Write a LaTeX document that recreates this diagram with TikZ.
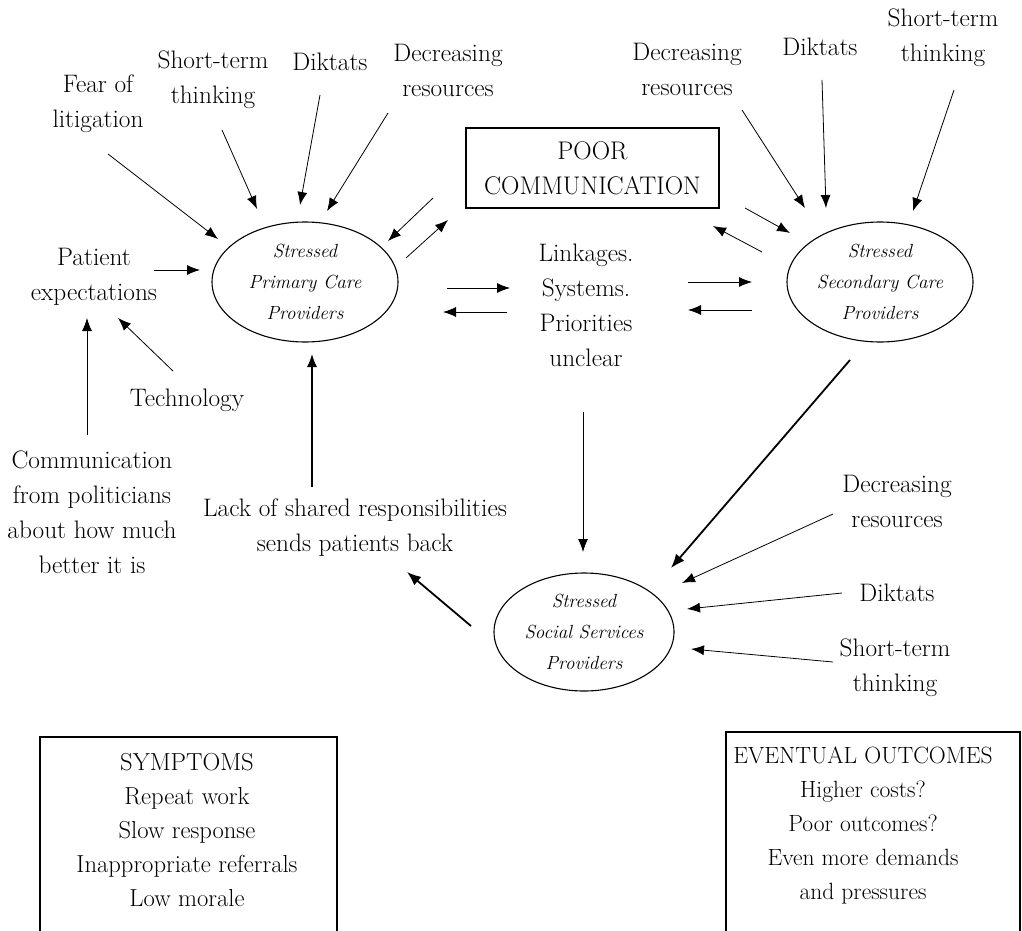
\documentclass[tikz,border=0pt]{standalone}
\usepackage{fontspec}
\usetikzlibrary{arrows.meta,shapes.geometric}
\begin{document}
\begin{tikzpicture}[x=1pt,y=-1pt,
  lbl/.style={align=center,font=\fontsize{25.3}{35}\selectfont,inner sep=0pt},
  ell/.style={draw,ellipse,line width=1.1pt,minimum width=186pt,minimum height=120pt,inner sep=0pt,align=center,font=\fontsize{19}{31}\selectfont\itshape},
  arr/.style={line width=0.8pt,-{Latex[length=13pt,width=10pt]}},
  tarr/.style={line width=1.8pt,-{Latex[length=14pt,width=11pt]}},
  marr/.style={line width=1.3pt,-{Latex[length=13pt,width=10pt]}},
  obox/.style={line width=1.2pt}
]
\useasboundingbox (0,0) rectangle (1022,931);

% ellipses
\node[ell] (prim) at (305,282) {Stressed\\Primary Care\\Providers};
\node[ell] (sec) at (880,282) {Stressed\\Secondary Care\\Providers};
\node[ell,minimum width=180pt,minimum height=118pt] (soc) at (584,632) {Stressed\\Social Services\\Providers};

% central box
\node[lbl,font=\fontsize{25.5}{35}\selectfont,draw,line width=1.2pt,minimum width=253pt,minimum height=80pt] (poor) at (592.5,168) {POOR\\COMMUNICATION};

% labels
\node[lbl] (fear) at (98,104) {Fear of\\litigation};
\node[lbl] (st1) at (213,80) {Short-term\\thinking};
\node[lbl] (dik1) at (330,62) {Diktats};
\node[lbl] (dec1) at (448,70) {Decreasing\\resources};
\node[lbl] (pat) at (94,277) {Patient\\expectations};
\node[lbl] (tech) at (187,400) {Technology};
\node[lbl] (comm) at (92,512) {Communication\\from politicians\\about how much\\better it is};
\node[lbl] (lack) at (355,528) {Lack of shared responsibilities\\sends patients back};
\node[lbl] (link) at (586,305) {Linkages.\\Systems.\\Priorities\\unclear};
\node[lbl] (dec2) at (687,69) {Decreasing\\resources};
\node[lbl] (dik2) at (820,47) {Diktats};
\node[lbl] (st2) at (943,38) {Short-term\\thinking};
\node[lbl] (dec3) at (897,501) {Decreasing\\resources};
\node[lbl] (dik3) at (897,593) {Diktats};
\node[lbl] (st3) at (895,668) {Short-term\\thinking};
\node[lbl,font=\fontsize{24.6}{34}\selectfont] (symp) at (187,830) {SYMPTOMS\\Repeat work\\Slow response\\Inappropriate referrals\\Low morale};
\node[lbl,font=\fontsize{23.5}{34}\selectfont] (outc) at (863,825) {EVENTUAL OUTCOMES\\Higher costs?\\Poor outcomes?\\Even more demands\\and pressures};

% open boxes (cut at bottom)
\draw[obox] (40,932) -- (40,737) -- (337,737) -- (337,932);
\draw[obox] (726,932) -- (726,732) -- (1020,732) -- (1020,932);

% arrow end points
\coordinate (fearS) at (108,154);  \coordinate (fearE) at (218,239);
\coordinate (st1S) at (222,130);   \coordinate (st1E) at (257,209);
\coordinate (dik1S) at (320,95);   \coordinate (dik1E) at (300,205);
\coordinate (dec1S) at (388,113);  \coordinate (dec1E) at (327,211);
\coordinate (pp1S) at (433,198);   \coordinate (pp1E) at (388,241);
\coordinate (pp2S) at (406,258);   \coordinate (pp2E) at (448,220);
\coordinate (patS) at (154,270);   \coordinate (patE) at (200,270);
\coordinate (techS) at (173,371);  \coordinate (techE) at (118,318);
\coordinate (commS) at (87,435);   \coordinate (commE) at (87,318);
\coordinate (lackS) at (312,487);  \coordinate (lackE) at (312,354);
\coordinate (pl1S) at (447,288);   \coordinate (pl1E) at (510,288);
\coordinate (pl2S) at (507,312);   \coordinate (pl2E) at (443,312);
\coordinate (ls1S) at (688,282);   \coordinate (ls1E) at (752,282);
\coordinate (ls2S) at (752,310);   \coordinate (ls2E) at (688,310);
\coordinate (ps1S) at (745,208);   \coordinate (ps1E) at (790,233);
\coordinate (ps2S) at (762,252);   \coordinate (ps2E) at (713,226);
\coordinate (dec2S) at (742,110);  \coordinate (dec2E) at (805,208);
\coordinate (dik2S) at (822,80);   \coordinate (dik2E) at (826,208);
\coordinate (st2S) at (954,90);    \coordinate (st2E) at (913,211);
\coordinate (ssS) at (850,360);    \coordinate (ssE) at (671,568);
\coordinate (lsoS) at (583,412);   \coordinate (lsoE) at (583,552);
\coordinate (dec3S) at (833,514);  \coordinate (dec3E) at (682,583);
\coordinate (dik3S) at (842,593);  \coordinate (dik3E) at (687,609);
\coordinate (st3S) at (833,662);   \coordinate (st3E) at (691,649);
\coordinate (backS) at (471,626);  \coordinate (backE) at (407,572);

% arrows
\draw[arr] (fearS) -- (fearE);
\draw[arr] (st1S) -- (st1E);
\draw[arr] (dik1S) -- (dik1E);
\draw[arr] (dec1S) -- (dec1E);
\draw[arr] (pp1S) -- (pp1E);
\draw[arr] (pp2S) -- (pp2E);
\draw[arr] (patS) -- (patE);
\draw[arr] (techS) -- (techE);
\draw[arr] (commS) -- (commE);
\draw[marr] (lackS) -- (lackE);
\draw[arr] (pl1S) -- (pl1E);
\draw[arr] (pl2S) -- (pl2E);
\draw[arr] (ls1S) -- (ls1E);
\draw[arr] (ls2S) -- (ls2E);
\draw[arr] (ps1S) -- (ps1E);
\draw[arr] (ps2S) -- (ps2E);
\draw[arr] (dec2S) -- (dec2E);
\draw[arr] (dik2S) -- (dik2E);
\draw[arr] (st2S) -- (st2E);
\draw[tarr] (ssS) -- (ssE);
\draw[arr] (lsoS) -- (lsoE);
\draw[arr] (dec3S) -- (dec3E);
\draw[arr] (dik3S) -- (dik3E);
\draw[arr] (st3S) -- (st3E);
\draw[tarr] (backS) -- (backE);
\end{tikzpicture}
\end{document}
